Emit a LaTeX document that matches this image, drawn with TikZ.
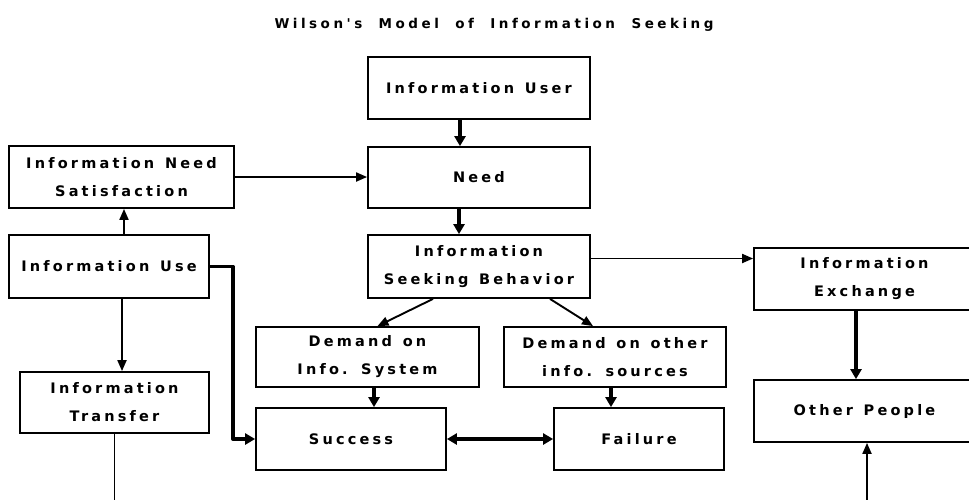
\documentclass[tikz,border=0pt]{standalone}
\usepackage{fontspec}
\newfontfamily\boxfont[LetterSpace=22,WordSpace=1.3]{DejaVu Sans}
\newfontfamily\titlefont[LetterSpace=26,WordSpace=2]{DejaVu Sans}
\usetikzlibrary{arrows.meta,calc}
\tikzset{
  box/.style={draw, line width=1.8pt, minimum width=#1, inner sep=0pt, align=center,
    font=\boxfont\bfseries\fontsize{14.5}{28}\selectfont},
  thin/.style={line width=1.9pt, -{Triangle[length=11pt,width=9pt]}},
  thick/.style={line width=3.3pt, -{Triangle[length=10pt,width=11pt]}},
  plain/.style={line width=1.9pt},
}
\begin{document}
\begin{tikzpicture}[x=1pt,y=-1pt]
\useasboundingbox (0,0) rectangle (969,499);
\clip (0,0) rectangle (969,499);
\node[font=\titlefont\bfseries\fontsize{13.5}{15}\selectfont] (title) at (494,25) {Wilson's Model of Information Seeking};
\node[box=222pt, minimum height=62pt] (user) at (479,88) {Information User};
\node[box=222pt, minimum height=61pt] (need) at (479,177.5) {Need};
\node[box=225pt, minimum height=62pt] (ins) at (121.5,177) {Information Need\\Satisfaction};
\node[box=222pt, minimum height=63pt] (isb) at (479,266.5) {Information\\Seeking Behavior};
\node[box=200pt, minimum height=63pt] (use) at (109,266.5) {Information Use};
\node[box=221pt, minimum height=62pt] (ie) at (864.5,279) {Information\\Exchange};
\node[box=223pt, minimum height=60pt] (dis) at (367.5,357) {Demand on\\Info. System};
\node[box=222pt, minimum height=60pt] (dois) at (615,357) {Demand on other\\info. sources};
\node[box=190pt, minimum height=62pt] (succ) at (351,439) {Success};
\node[box=170pt, minimum height=62pt] (fail) at (639,439) {Failure};
\node[box=221pt, minimum height=62pt] (op) at (864.5,411) {Other People};
\node[box=189pt, minimum height=61pt] (trans) at (114.5,402.5) {Information\\Transfer};
\coordinate (b1) at (114.5,502);
\coordinate (b2) at (867,502);
% connectors
\draw[thick] ([xshift=-19pt]user.south) -- ([xshift=-19pt]user.south |- need.north);
\draw[thick] ([xshift=-20pt]need.south) -- ([xshift=-20pt]need.south |- isb.north);
\draw[thin] (ins.east) -- (ins.east -| need.west);
\draw[thin] ([xshift=15pt]use.north) -- ([xshift=15pt]use.north |- ins.south);
\draw[thin] ([xshift=13pt]use.south) -- ([xshift=13pt]use.south |- trans.north);
\draw[plain] (trans.south) -- (b1);
\draw[thin] (b2) -- (b2 |- op.south);
\draw[thin] ([yshift=8pt]isb.east) -- ([yshift=8pt]isb.east -| ie.west);
\draw[thin] ($(isb.south)+(-46,0)$) -- ($(dis.north)+(10,0)$);
\draw[thin] ($(isb.south)+(71,0)$) -- ($(dois.north)+(-22,0)$);
\draw[thick] ([xshift=6.5pt]dis.south) -- ([xshift=6.5pt]dis.south |- succ.north);
\draw[thick] ([xshift=-4pt]dois.south) -- ([xshift=-4pt]dois.south |- fail.north);
\draw[thick] ([xshift=-8.5pt]ie.south) -- ([xshift=-8.5pt]ie.south |- op.north);
\draw[thick, {Triangle[length=10pt,width=11pt]}-{Triangle[length=10pt,width=11pt]}] (succ.east) -- (fail.west);
\draw[thick, line cap=round, line join=round] (use.east) -- ++(23,0) |- (succ.west);
\end{tikzpicture}
\end{document}
